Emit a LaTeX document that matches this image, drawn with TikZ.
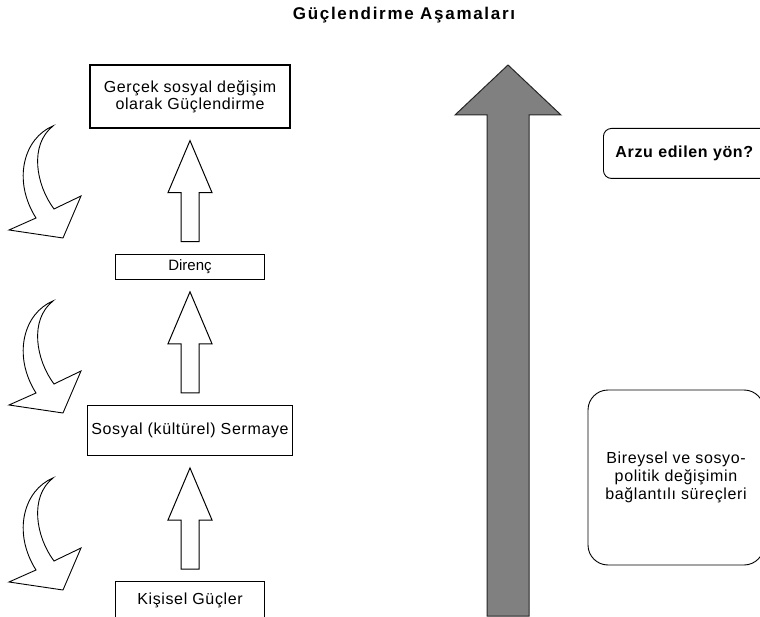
\documentclass[tikz,border=0pt]{standalone}
\usepackage{fontspec}
\setmainfont{Liberation Sans}[LetterSpace=4]
\newfontfamily\titlefont{Liberation Sans}[LetterSpace=10]
\newfontfamily\plainfont{Liberation Sans}
\usetikzlibrary{calc, positioning}

\definecolor{arrowgray}{RGB}{128,128,128}

\tikzset{
  stage/.style={draw, line width=1.2pt, align=center, inner sep=0pt, font=\fontsize{16}{17}\selectfont},
  roundbox/.style={draw, line width=0.9pt, align=center, inner sep=0pt, font=\fontsize{16}{18}\selectfont},
  hollow/.style={draw, line width=1pt, fill=white, line join=miter},
  bigarrow/.style={draw=black!85, line width=1pt, fill=arrowgray},
  curlarrow/.style={draw, line width=0.9pt, fill=white, line join=miter},
}

\begin{document}
\begin{tikzpicture}[x=1pt,y=-1pt]
\useasboundingbox (0,0) rectangle (760,617);

\node[font=\titlefont\fontsize{17}{19}\selectfont\bfseries] (title) at (404,15) {Güçlendirme Aşamaları};

% stages, bottom to top
\node[stage,minimum width=200pt,minimum height=63pt] (g) at (190,96.5) {Gerçek sosyal değişim\\olarak Güçlendirme};
\node[stage,minimum width=149pt,minimum height=25pt,below=125pt of g] (d) {{\plainfont\fontsize{15}{17}\selectfont Direnç}};
\node[stage,minimum width=205pt,minimum height=50pt,below=125pt of d] (s) {Sosyal (kültürel) Sermaye};
\node[stage,minimum width=149pt,minimum height=37pt,below=125pt of s] (k) {Kişisel Güçler};

% hollow arrows between the stages
\foreach \a/\b in {g/d, d/s, s/k} {
  \coordinate (tip) at ($(\a.south)+(0,12)$);
  \draw[hollow] (tip) -- ++(22,52) -- ++(-13,0) -- ($(tip|-\b.north)+(9,-12)$) -- ++(-18,0)
    -- ($(tip)+(-9,52)$) -- ++(-13,0) -- cycle;
}

% curved arrows on the left
\foreach \dy in {0,175,352} {
  \draw[curlarrow,shift={(0,\dy)}] (53,126) .. controls (24,138) and (12,180) .. (36,218)
    -- (9,230) -- (63,238) -- (81,196) -- (54,209)
    .. controls (36,185) and (29,145) .. (53,126) -- cycle;
}

% big gray arrow
\coordinate (top) at (508,65);
\coordinate (foot) at (508,616);
\draw[bigarrow] (top) -- ++(53,50) -- ++(-32,0) -- ($(foot)+(21,0)$) -- ($(foot)+(-21,0)$)
  -- ($(top)+(-21,50)$) -- ++(-32,0) -- cycle;

\node[roundbox,rounded corners=8pt,anchor=north west,minimum height=50pt,text width=146pt,
  inner xsep=12pt,align=left,font=\fontsize{16}{17}\selectfont\bfseries] (goal) at (603,128) {Arzu edilen yön?};
\node[roundbox,rounded corners=20pt,minimum width=176pt,minimum height=175pt] (link) at (676,477.5)
  {Bireysel ve sosyo-\\politik değişimin\\bağlantılı süreçleri};
\end{tikzpicture}
\end{document}
